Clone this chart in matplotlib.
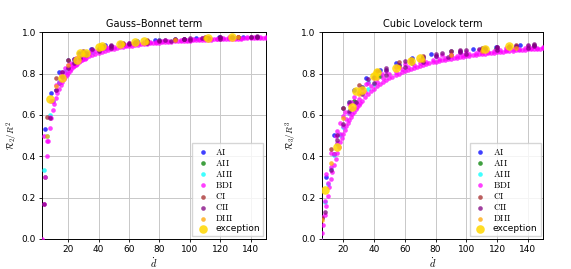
import matplotlib
matplotlib.use("Agg")
import matplotlib.pyplot as plt

plt.rcParams['mathtext.fontset'] = 'cm'

# ---------------- data (d, R2/R^2, R3/R^3) ----------------
sphere_d = [3, 4, 5, 6, 7, 8, 9, 10, 11, 12, 13, 14, 15, 16, 17, 18, 19, 20, 21, 22,
            23, 24, 25, 26, 27, 28, 29, 30, 31,
            32, 34, 36, 38, 40, 42, 44, 46, 48, 50, 52, 54, 56, 58, 60, 62, 64, 66, 68, 70,
            72, 74, 76, 78, 80, 82, 84, 86, 88, 90, 92, 94, 96, 98, 100, 102, 104, 106, 108, 110,
            112, 114, 116, 118, 120, 122, 124, 126, 128, 130, 132, 134, 136, 138, 140, 142, 144, 146, 148, 150]
sphere_r2 = [0.0, 0.167, 0.300, 0.400, 0.476, 0.536, 0.583, 0.622, 0.655, 0.682, 0.705, 0.725, 0.743, 0.758,
             0.772, 0.784, 0.795, 0.805, 0.814, 0.823, 0.830, 0.837, 0.843, 0.849, 0.855, 0.860, 0.865, 0.869, 0.873,
             0.877, 0.884, 0.891, 0.896, 0.901, 0.906, 0.910, 0.914, 0.918, 0.921, 0.924, 0.927, 0.929, 0.932, 0.934,
             0.936, 0.938, 0.940, 0.942, 0.943, 0.945, 0.946, 0.948, 0.949, 0.950, 0.952, 0.953, 0.954, 0.955, 0.956,
             0.957, 0.958, 0.959, 0.959, 0.960, 0.961, 0.962, 0.962, 0.963, 0.964, 0.964, 0.965, 0.966, 0.966, 0.967,
             0.967, 0.968, 0.968, 0.969, 0.969, 0.970, 0.970, 0.971, 0.971, 0.972, 0.972, 0.972, 0.973, 0.973, 0.973]
sphere_r3 = [0.0, 0.0, 0.0, 0.027, 0.068, 0.115, 0.162, 0.207, 0.250, 0.289, 0.325, 0.359, 0.389, 0.417,
             0.443, 0.467, 0.488, 0.509, 0.527, 0.545, 0.561, 0.576, 0.590, 0.604, 0.616, 0.628, 0.639, 0.649, 0.659,
             0.668, 0.686, 0.701, 0.715, 0.728, 0.740, 0.750, 0.760, 0.770, 0.778, 0.786, 0.793, 0.800, 0.807, 0.813,
             0.818, 0.824, 0.829, 0.833, 0.838, 0.842, 0.846, 0.850, 0.854, 0.857, 0.860, 0.864, 0.867, 0.870, 0.872,
             0.875, 0.878, 0.880, 0.882, 0.885, 0.887, 0.889, 0.891, 0.893, 0.895, 0.896, 0.898, 0.900, 0.902, 0.903,
             0.905, 0.906, 0.908, 0.909, 0.911, 0.912, 0.913, 0.914, 0.916, 0.917, 0.918, 0.919, 0.920, 0.921, 0.922]

quad_d = [6, 8, 10, 12, 14, 16, 18, 20, 22, 24, 26, 28, 30, 34, 38, 42, 46, 50, 54, 58, 62, 66, 70,
          74, 78, 82, 86, 90, 94, 98, 102, 106, 110, 114, 118, 122, 126, 130, 134, 138, 142, 146, 150]
quad_r2 = [0.472, 0.591, 0.668, 0.720, 0.758, 0.787, 0.810, 0.829, 0.844, 0.857, 0.867, 0.877, 0.885,
           0.898, 0.909, 0.917, 0.924, 0.930, 0.935, 0.940, 0.944, 0.947, 0.950,
           0.953, 0.955, 0.957, 0.959, 0.961, 0.963, 0.964, 0.966, 0.967, 0.968,
           0.969, 0.970, 0.971, 0.972, 0.973, 0.974, 0.975, 0.975, 0.976, 0.977]
quad_r3 = [0.105, 0.186, 0.271, 0.346, 0.410, 0.464, 0.509, 0.548, 0.581, 0.610, 0.635, 0.658, 0.677,
           0.711, 0.738, 0.761, 0.780, 0.796, 0.810, 0.822, 0.833, 0.842, 0.851,
           0.858, 0.865, 0.872, 0.877, 0.883, 0.887, 0.892, 0.896, 0.900, 0.903,
           0.906, 0.910, 0.912, 0.915, 0.918, 0.920, 0.922, 0.924, 0.926, 0.928]

bdi_d = [4, 9, 12, 15, 16, 18, 20, 21, 24, 25, 27, 30, 32, 35, 36, 40, 45, 48, 54, 56, 60, 64, 70, 72,
         80, 84, 90, 96, 100, 108, 112, 120, 126, 132, 140, 144]
bdi_r2 = [0.5, 0.667, 0.745, 0.794, 0.807, 0.827, 0.844, 0.851, 0.870, 0.875, 0.884, 0.895, 0.902, 0.910,
          0.912, 0.921, 0.930, 0.934, 0.941, 0.943, 0.947, 0.950, 0.955, 0.956, 0.960, 0.962, 0.965, 0.967,
          0.968, 0.971, 0.972, 0.973, 0.975, 0.976, 0.977, 0.978]
bdi_r3 = [0.0, 0.313, 0.417, 0.499, 0.522, 0.563, 0.597, 0.612, 0.652, 0.664, 0.685, 0.712, 0.728, 0.749,
          0.755, 0.777, 0.800, 0.811, 0.830, 0.836, 0.846, 0.855, 0.867, 0.870, 0.883, 0.888, 0.895, 0.902,
          0.905, 0.912, 0.915, 0.921, 0.924, 0.928, 0.932, 0.933]

ai_d = [5, 9, 14, 20, 27, 35, 44, 54, 65, 77, 90, 104, 119, 135]
ai_r2 = [0.533, 0.708, 0.808, 0.864, 0.899, 0.921, 0.937, 0.949, 0.957, 0.964, 0.969, 0.973, 0.977, 0.979]
ai_r3 = [0.0, 0.300, 0.505, 0.632, 0.720, 0.779, 0.820, 0.851, 0.875, 0.893, 0.908, 0.920, 0.930, 0.937]

aii_d = [5, 14, 27, 44, 65, 90, 119]
aii_r2 = [0.300, 0.753, 0.875, 0.924, 0.948, 0.963, 0.972]
aii_r3 = [0.0, 0.410, 0.670, 0.788, 0.852, 0.891, 0.918]

aiii_d = [4, 6, 8, 10, 12, 14, 16, 18, 20, 24, 24, 28, 32, 36, 36, 40, 40, 48, 56, 64, 72, 80, 96, 112, 128, 144]
aiii_r2 = [0.333, 0.5, 0.6, 0.67, 0.723, 0.761, 0.789, 0.812, 0.830, 0.858, 0.873, 0.878, 0.904, 0.904,
           0.914, 0.914, 0.923, 0.936, 0.945, 0.952, 0.957, 0.961, 0.968, 0.972, 0.976, 0.978]
aiii_r3 = [0.0, 0.10, 0.18, 0.265, 0.339, 0.404, 0.458, 0.503, 0.543, 0.610, 0.661, 0.658, 0.734, 0.725,
           0.761, 0.750, 0.782, 0.816, 0.840, 0.859, 0.874, 0.886, 0.904, 0.917, 0.927, 0.935]

ci_d = [6, 12, 20, 30, 42, 56, 72, 90, 110, 132]
ci_r2 = [0.59, 0.78, 0.864, 0.908, 0.934, 0.950, 0.962, 0.969, 0.975, 0.979]
ci_r3 = [0.10, 0.435, 0.632, 0.744, 0.813, 0.856, 0.886, 0.908, 0.924, 0.937]

cii_d = [4, 8, 12, 16, 20, 24, 28, 32, 40, 48, 60, 72, 88, 100, 120, 140,
         16, 24, 32, 40, 48, 56, 64, 80, 96, 112, 128, 144,
         36, 48, 60, 72, 84, 96, 108, 120, 132, 144,
         64, 80, 96, 112, 128, 144,
         100, 120, 140]
cii_r2 = [0.167, 0.585, 0.72, 0.782, 0.825, 0.853, 0.874, 0.889, 0.911, 0.926, 0.941, 0.9505, 0.9593, 0.964, 0.970, 0.975,
          0.806, 0.870, 0.902, 0.921, 0.934, 0.943, 0.950, 0.960, 0.967, 0.9715, 0.975, 0.978,
          0.9175, 0.9385, 0.9505, 0.959, 0.9645, 0.969, 0.9723, 0.9753, 0.9775, 0.9793,
          0.9547, 0.9635, 0.9696, 0.974, 0.9774, 0.9798,
          0.9708, 0.976, 0.9796]
cii_r3 = [0.0, 0.13, 0.335, 0.48, 0.558, 0.618, 0.665, 0.701, 0.755, 0.793, 0.832, 0.858, 0.8825, 0.8965, 0.913, 0.925,
          0.504, 0.661, 0.734, 0.782, 0.816, 0.840, 0.859, 0.886, 0.904, 0.917, 0.927, 0.935,
          0.776, 0.8275, 0.860, 0.8815, 0.8976, 0.910, 0.9196, 0.927, 0.934, 0.939,
          0.8715, 0.8956, 0.9124, 0.924, 0.9336, 0.941,
          0.916, 0.929, 0.9394]

diii_d = [6, 12, 20, 30, 42, 56, 72, 90, 110, 132]
diii_r2 = [0.5, 0.74, 0.840, 0.893, 0.923, 0.942, 0.955, 0.964, 0.9705, 0.9754]
diii_r3 = [0.09, 0.37, 0.583, 0.702, 0.779, 0.830, 0.866, 0.891, 0.911, 0.925]

exc_d = [8, 16, 26, 28, 32, 40, 42, 54, 64, 70, 112, 128]
exc_r2 = [0.677, 0.78, 0.866, 0.898, 0.90, 0.927, 0.934, 0.942, 0.952, 0.96, 0.974, 0.978]
exc_r3 = [0.235, 0.445, 0.637, 0.718, 0.72, 0.79, 0.81, 0.825, 0.862, 0.878, 0.918, 0.935]

xticks = [20, 40, 60, 80, 100, 120, 140]
yticks = [0.0, 0.2, 0.4, 0.6, 0.8, 1.0]

# ---------------- figure ----------------
W, H = 571, 269
fig = plt.figure(figsize=(W / 100, H / 100), dpi=100)
axL = fig.add_axes([42.3 / W, (H - 239) / H, 223.4 / W, 206.7 / H])
axR = fig.add_axes([321.7 / W, (H - 239) / H, 221.6 / W, 206.7 / H])

small = 11
alpha = 0.75

def draw(ax, key, title, ylabel, xmin):
    fam = [
        (r'$\mathrm{AI}$', 'blue', ai_d, ai_r2, ai_r3),
        (r'$\mathrm{AII}$', 'green', aii_d, aii_r2, aii_r3),
        (r'$\mathrm{AIII}$', 'cyan', aiii_d, aiii_r2, aiii_r3),
        (r'$\mathrm{BDI}$', 'magenta', sphere_d + quad_d + bdi_d,
         sphere_r2 + quad_r2 + bdi_r2, sphere_r3 + quad_r3 + bdi_r3),
        (r'$\mathrm{CI}$', 'brown', ci_d, ci_r2, ci_r3),
        (r'$\mathrm{CII}$', 'purple', cii_d, cii_r2, cii_r3),
        (r'$\mathrm{DIII}$', 'orange', diii_d, diii_r2, diii_r3),
    ]
    for lab, col, d, v2, v3 in fam:
        ax.scatter(d, v2 if key == 2 else v3, s=small, color=col, alpha=alpha,
                   linewidths=0, label=lab, zorder=3)
    ax.scatter(exc_d, exc_r2 if key == 2 else exc_r3, s=38, color='gold', alpha=0.85,
               linewidths=0, label='exception', zorder=4)
    ax.set_xlim(xmin, 150)
    ax.set_ylim(0, 1)
    ax.set_xticks(xticks)
    ax.set_yticks(yticks)
    ax.grid(True, color='#c8c8c8', linewidth=0.7, zorder=0)
    ax.set_axisbelow(True)
    ax.tick_params(labelsize=6.5, length=2.5, width=0.6, pad=2)
    for sp in ax.spines.values():
        sp.set_linewidth(0.7)
    ax.set_title(title, fontsize=7, pad=4)
    ax.set_xlabel(r'$\dot{d}$', fontsize=7.5, labelpad=1)
    ax.set_ylabel(ylabel, fontsize=6.5, labelpad=1.5)
    ax.legend(loc='lower right', fontsize=6.5, labelspacing=0.12, handletextpad=0.6,
              borderpad=0.35, handlelength=1.6, framealpha=0.8, fancybox=False,
              edgecolor='#cccccc', markerscale=1.0, borderaxespad=0.3)

draw(axL, 2, 'Gauss\u2013Bonnet term', r'$\mathcal{R}_2/R^2$', 3)
draw(axR, 3, 'Cubic Lovelock term', r'$\mathcal{R}_3/R^3$', 6)

fig.savefig('out.png', dpi=100)
